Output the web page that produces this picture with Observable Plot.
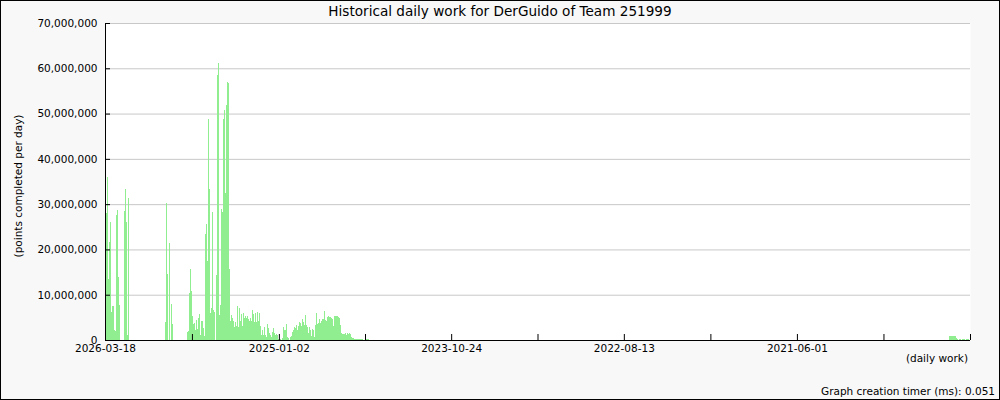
<!DOCTYPE html>
<html><head><meta charset="utf-8">
<script src="https://cdn.jsdelivr.net/npm/d3@7"></script>
<script src="https://cdn.jsdelivr.net/npm/@observablehq/plot@0.6"></script>
<style>
html,body{margin:0;padding:0;background:#f8f8f8;}
#chart svg{display:block;}
</style></head><body><div id="chart"></div>
<script>
// ---- data ----
const chartTitle = "Historical daily work for DerGuido of Team 251999";
const yLabel = "(points completed per day)";
const xLabel = "(daily work)";
const timerNote = "Graph creation timer (ms): 0.051";
const firstDay = "2026-03-18";   // newest day, left edge
const lastDay = "2020-03-20";    // oldest day, right edge
const tickDays = ["2026-03-18", "2025-01-02", "2023-10-24", "2022-08-13", "2021-06-01"];
const yTicks = [0, 10e6, 20e6, 30e6, 40e6, 50e6, 60e6, 70e6];
const daysPerBar = 2.53;
// millions of points per day, newest first, starting at firstDay
const recentWork = [
  34.5, 28.1, 36.0, 13.5, 21.6, 26.1, 6.1, 7.6, 7.6, 2.2,
  2.0, 27.6, 28.7, 14.0, 7.7, 0, 0, 0, 0, 28.5,
  33.3, 26.0, 1.0, 31.4, 0, 0, 0, 0, 0, 0,
  0, 0, 0, 0, 0, 0, 0, 0, 0, 0,
  0, 0, 0, 0, 0, 0, 0, 0, 0, 0,
  0, 0, 0, 0, 0, 0, 0, 0, 0, 0,
  4.0, 30.2, 14.6, 0, 21.4, 0, 8.0, 3.5, 0, 0,
  0, 0, 0, 0, 0, 0, 0, 0, 0, 0,
  0, 0, 1.8, 2.0, 10.3, 15.7, 10.8, 5.2, 3.5, 3.8,
  2.2, 4.4, 2.5, 4.8, 5.7, 1.0, 4.2, 4.2, 2.6, 0.9,
  23.5, 25.6, 17.5, 48.8, 33.3, 5.9, 7.0, 28.2, 6.6, 6.2,
  0, 14.3, 58.5, 61.2, 5.6, 7.7, 29.0, 28.3, 48.8, 50.8,
  32.5, 51.9, 57.0, 56.8, 15.7, 4.2, 5.5, 4.9, 4.1, 2.9,
  4.0, 3.2, 7.4, 2.9, 7.0, 4.1, 5.7, 3.0, 5.9, 4.9,
  5.2, 4.9, 5.2, 4.6, 4.1, 4.9, 4.3, 6.6, 5.7, 4.0,
  5.9, 4.0, 6.1, 4.3, 5.9, 3.0, 1.0, 2.2, 1.2, 2.8,
  1.0, 0.6, 3.6, 2.7, 1.5, 1.0, 0.6, 1.8, 2.6, 1.6,
  1.0, 1.4, 1.0, 0.3, 0.2, 0.2, 0.1, 0.4, 2.9, 2.2,
  2.3, 3.5, 0.7, 0.4, 0, 0.7, 0.9, 1.8, 2.2, 2.9,
  2.6, 3.3, 2.3, 3.0, 4.0, 3.7, 3.0, 4.6, 4.0, 3.3,
  5.5, 3.3, 2.9, 1.5, 2.9, 2.2, 0.9, 2.4, 2.1, 0.7,
  3.3, 5.9, 3.5, 3.7, 4.6, 3.8, 4.3, 4.6, 4.6, 6.4,
  4.4, 4.3, 5.0, 5.3, 5.1, 5.0, 4.9, 4.6, 3.1, 5.3,
  5.3, 5.3, 5.3, 5.1, 4.8, 3.3, 1.5, 1.3, 1.3, 1.3,
  1.5, 1.2, 1.5, 1.3, 1.5, 1.3, 0.6, 0.5, 0.5, 0.3,
  0.2, 0.2, 0.2, 0.2, 0.2, 0.2, 0.2, 0.2, 0, 0,
  0.2, 0.2, 0.2, 0.2
];
const earliestWorkFrom = "2020-05-13";
const earliestWork = [
  0.8, 0.8, 0.8, 0.8, 0.8, 0.8, 0.8, 0.4, 0.3, 0,
  0.3, 0.3, 0, 0.3, 0.2, 0.3, 0, 0.3, 0.2, 0.3
];

// ---- build ----
const DAY = 864e5;
const parse = s => new Date(s + "T00:00:00Z");
function toBars(from, values) {
  const t0 = parse(from).getTime();
  return values.map((v, i) => ({
    start: new Date(t0 - i * daysPerBar * DAY),
    end: new Date(t0 - (i + 1) * daysPerBar * DAY),
    points: v * 1e6
  }));
}
const bars = [...toBars(firstDay, recentWork), ...toBars(earliestWorkFrom, earliestWork)].filter(d => d.points > 0);
const majorTicks = [...tickDays.map(parse), parse(lastDay)];
const minorTicks = d3.pairs(majorTicks, (a, b) => new Date((+a + +b) / 2));
const labelOf = new Map(tickDays.map(s => [+parse(s), s]));

const chart = Plot.plot({
  width: 1000, height: 400,
  marginLeft: 105, marginRight: 30, marginTop: 23, marginBottom: 60,
  style: {background: "#f8f8f8", fontFamily: "DejaVu Sans", fontSize: "10.5px", color: "black"},
  x: {type: "utc", domain: [parse(firstDay), parse(lastDay)]},
  y: {domain: [0, 70e6]},
  marks: [
    Plot.frame({fill: "white", stroke: "none"}),
    Plot.gridY(yTicks, {stroke: "#c8c8c8", strokeOpacity: 1}),
    Plot.rectY(bars, {x1: "start", x2: "end", y: "points", fill: "#90ee90", shapeRendering: "crispEdges"}),
    Plot.axisY(yTicks, {tickSize: -5, tickPadding: 13, tickFormat: d3.format(","), label: null, fill: "black"}),
    Plot.axisX(majorTicks, {tickSize: -6, tickPadding: 10, tickFormat: d => labelOf.get(+d) ?? "", label: null, fill: "black"}),
    Plot.axisX(minorTicks, {tickSize: -6, tickFormat: () => "", label: null}),
    Plot.ruleY([0], {stroke: "black"}),
    Plot.ruleX([parse(firstDay)], {stroke: "black"})
  ]
});

const svg = d3.select(chart);
svg.append("text").attr("x", 500).attr("y", 16).attr("text-anchor", "middle")
  .attr("font-size", 13.6).attr("fill", "black").text(chartTitle);
svg.append("text").attr("transform", "translate(22,186) rotate(-90)").attr("text-anchor", "middle")
  .attr("font-size", 10.5).attr("fill", "black").text(yLabel);
svg.append("text").attr("x", 968).attr("y", 362).attr("text-anchor", "end")
  .attr("font-size", 10.5).attr("fill", "black").text(xLabel);
svg.append("text").attr("x", 995).attr("y", 395).attr("text-anchor", "end")
  .attr("font-size", 10.5).attr("fill", "black").text(timerNote);
svg.append("rect").attr("x", 0.5).attr("y", 0.5).attr("width", 999).attr("height", 399)
  .attr("fill", "none").attr("stroke", "black");
document.getElementById("chart").append(chart);
</script></body></html>
